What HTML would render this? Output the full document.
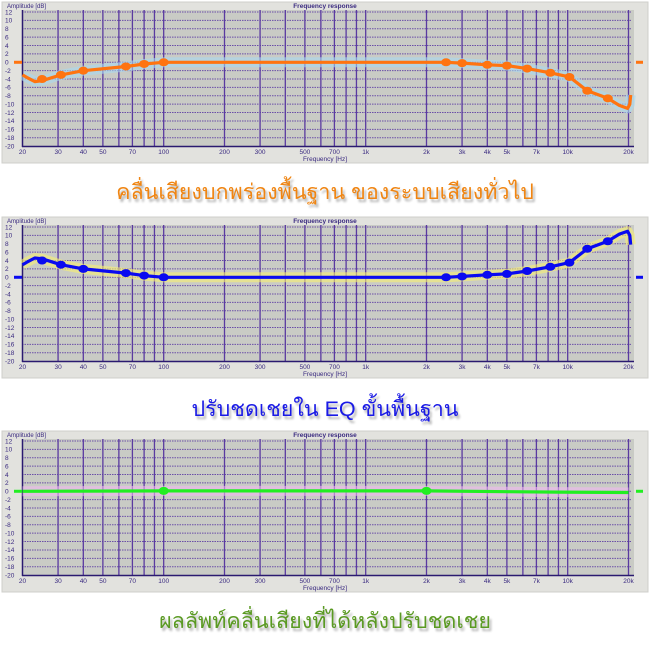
<!DOCTYPE html>
<html><head><meta charset="utf-8"><style>
body{margin:0;width:650px;height:650px;background:#fff;overflow:hidden;position:relative;font-family:"Liberation Sans",sans-serif}
.cap{position:absolute;left:0;width:650px;text-align:center;font-family:"Liberation Sans","Noto Sans CJK SC","WenQuanYi Zen Hei",sans-serif;font-size:21.5px;text-shadow:2px 3px 2px rgba(0,0,0,0.3)}
svg{position:absolute;left:0}
</style></head><body>
<svg id="c1" style="top:0" width="650" height="166"></svg>
<div class="cap" style="top:175px;color:#f08512">คลื่นเสียงบกพร่องพื้นฐาน ของระบบเสียงทั่วไป</div>
<svg id="c2" style="top:215px" width="650" height="166"></svg>
<div class="cap" style="top:392px;color:#1a1ae6">ปรับชดเชยใน EQ ขั้นพื้นฐาน</div>
<svg id="c3" style="top:429px" width="650" height="166"></svg>
<div class="cap" style="top:604px;color:#5a9a22">ผลลัพท์คลื่นเสียงที่ได้หลังปรับชดเชย</div>
<script>
function X(f){return 22.5+202*Math.log10(f/20);}
function Y(d){return 12+ (12-d)*4.19;}
function build(id,color,glow,pts,curve){
 var s='';
 s+='<rect x="2" y="2" width="646" height="161" fill="#e2e2de" stroke="#cfcfcb"/>';
 s+='<rect x="22" y="10" width="612" height="137" fill="#c9cbc5"/>';
 s+='<text x="325" y="8" font-size="6.5" font-weight="bold" fill="#3a2a80" text-anchor="middle">Frequency response</text>';
 s+='<text x="7" y="8" font-size="6" fill="#3a2a80">Amplitude [dB]</text>';
 for(var d=12;d>=-20;d-=2){var y=Y(d);
  if(d>-20)s+='<line x1="22" x2="632" y1="'+y+'" y2="'+y+'" stroke="#6a4ea8" stroke-width="1" stroke-dasharray="1.5,1"/>';
  s+='<text x="5" y="'+(y+2.3)+'" font-size="6.5" fill="#3a2a80">'+d+'</text>';}
 var fs=[];for(var dec=10;dec<=10000;dec*=10)for(var k=1;k<=9;k++){var f=k*dec;if(f>=30&&f<=20000)fs.push(f);}
 fs.forEach(function(f){var x=X(f);s+='<line x1="'+x+'" x2="'+x+'" y1="10" y2="146" stroke="#5a3aa0" stroke-width="1.3"/>';});
 s+='<line x1="22.5" x2="22.5" y1="10" y2="147" stroke="#2a1a70" stroke-width="1.5"/>';
 s+='<line x1="22" x2="634" y1="146.5" y2="146.5" stroke="#2a1a70" stroke-width="1.5"/>';
 var lab=[[20,'20'],[30,'30'],[40,'40'],[50,'50'],[70,'70'],[100,'100'],[200,'200'],[300,'300'],[500,'500'],[700,'700'],[1000,'1k'],[2000,'2k'],[3000,'3k'],[4000,'4k'],[5000,'5k'],[7000,'7k'],[10000,'10k'],[20000,'20k']];
 lab.forEach(function(l){s+='<text x="'+X(l[0])+'" y="154" font-size="6.5" fill="#3a2a80" text-anchor="middle">'+l[1]+'</text>';});
 s+='<text x="325" y="161" font-size="6.5" fill="#3a2a80" text-anchor="middle">Frequency [Hz]</text>';
 var p=curve.map(function(c){return X(c[0]).toFixed(1)+','+Y(c[1]).toFixed(1);}).join(' ');
 s+='<line x1="14" x2="22" y1="'+Y(0)+'" y2="'+Y(0)+'" stroke="'+color+'" stroke-width="3"/>';
 s+='<line x1="636" x2="643" y1="'+Y(0)+'" y2="'+Y(0)+'" stroke="'+color+'" stroke-width="3"/>';
 s+='<polyline points="'+p+'" fill="none" stroke="'+glow+'" stroke-opacity="0.6" stroke-width="10" stroke-linejoin="round"/>';
 s+='<polyline points="'+p+'" fill="none" stroke="'+color+'" stroke-width="3.2" stroke-linejoin="round"/>';
 pts.forEach(function(c){s+='<ellipse cx="'+X(c[0])+'" cy="'+Y(c[1])+'" rx="5" ry="4" fill="'+color+'"/>';});
 document.getElementById(id).innerHTML=s;
}
var pts1=[[25,-4],[31,-3],[40,-2],[65,-1],[80,-0.4],[100,0],[2500,0],[3000,-0.2],[4000,-0.6],[5000,-0.8],[6300,-1.5],[8200,-2.5],[10200,-3.5],[12500,-6.8],[15800,-8.6]];
var cur1=[[20,-3],[21,-3.6],[23,-4.6],[25,-4.4],[31,-3],[40,-2],[65,-1],[80,-0.4],[100,0],[2500,0],[3000,-0.2],[4000,-0.6],[5000,-0.8],[6300,-1.5],[8200,-2.5],[10200,-3.5],[12500,-6.8],[15800,-8.6],[18000,-10.3],[19800,-11],[20300,-10],[20500,-7.8]];
function neg(a){return a.map(function(c){return [c[0],-c[1]];});}
build('c1','#ff7410','#a8d8f0',pts1,cur1);
build('c2','#0a0af0','#f8f070',neg(pts1),neg(cur1));
build('c3','#22ee22','#f0b8f0',[[100,0.1],[2000,0.1]],[[20,0],[100,0.1],[2000,0.1],[5000,-0.1],[9000,-0.2],[20000,-0.3]]);
</script>
</body></html>
